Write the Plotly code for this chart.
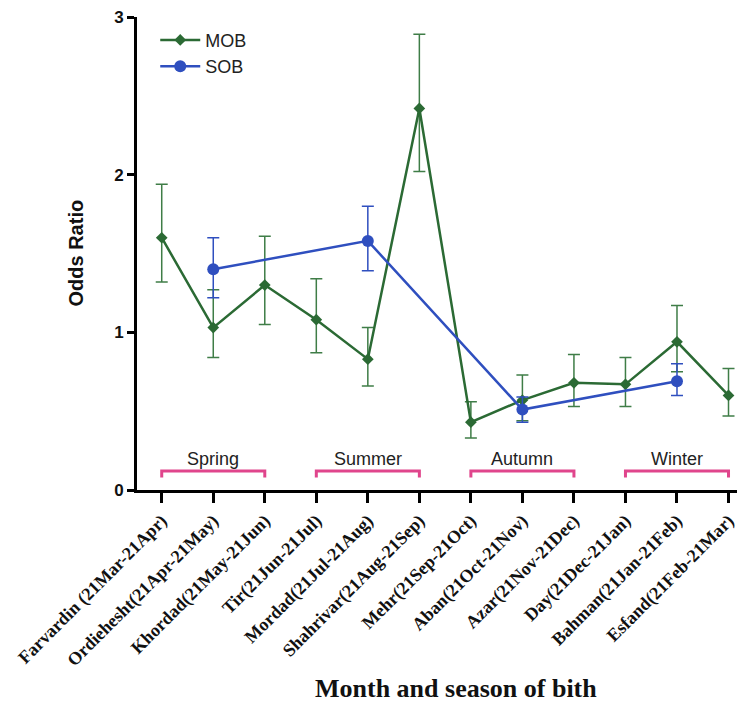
import plotly.graph_objects as go

months = ["Farvardin (21Mar-21Apr)", "Ordiehesht(21Apr-21May)", "Khordad(21May-21Jun)",
          "Tir(21Jun-21Jul)", "Mordad(21Jul-21Aug)", "Shahrivar(21Aug-21Sep)",
          "Mehr(21Sep-21Oct)", "Aban(21Oct-21Nov)", "Azar(21Nov-21Dec)",
          "Day(21Dec-21Jan)", "Bahman(21Jan-21Feb)", "Esfand(21Feb-21Mar)"]

mob_or = [1.60, 1.03, 1.30, 1.08, 0.83, 2.42, 0.43, 0.57, 0.68, 0.67, 0.94, 0.60]
mob_lo = [1.32, 0.84, 1.05, 0.87, 0.66, 2.02, 0.33, 0.44, 0.53, 0.53, 0.75, 0.47]
mob_hi = [1.94, 1.27, 1.61, 1.34, 1.03, 2.89, 0.56, 0.73, 0.86, 0.84, 1.17, 0.77]

sob_or = [None, 1.40, None, None, 1.58, None, None, 0.51, None, None, 0.69, None]
sob_lo = [None, 1.22, None, None, 1.39, None, None, 0.43, None, None, 0.60, None]
sob_hi = [None, 1.60, None, None, 1.80, None, None, 0.59, None, None, 0.80, None]

seasons = ["Spring", "Summer", "Autumn", "Winter"]
season_start = [0, 3, 6, 9]
season_end = [2, 5, 8, 11]

xs = list(range(len(months)))
GREEN = "#2b6a34"
GREEN_ERR = "#3f7d47"
BLUE = "#2f4fbf"
PINK = "#e0458c"

fig = go.Figure()
fig.add_trace(go.Scatter(
    x=xs, y=mob_or, name="MOB", mode="lines+markers",
    line=dict(color=GREEN, width=2.5),
    marker=dict(symbol="diamond", size=9, color=GREEN),
    error_y=dict(type="data", array=[h - v for v, h in zip(mob_or, mob_hi)],
                 arrayminus=[v - l for v, l in zip(mob_or, mob_lo)],
                 symmetric=False, color=GREEN_ERR, thickness=1.5, width=6),
))
fig.add_trace(go.Scatter(
    x=[x for x, v in zip(xs, sob_or) if v is not None],
    y=[v for v in sob_or if v is not None], name="SOB", mode="lines+markers",
    line=dict(color=BLUE, width=2.5),
    marker=dict(symbol="circle", size=12, color=BLUE),
    error_y=dict(type="data",
                 array=[h - v for v, h in zip(sob_or, sob_hi) if v is not None],
                 arrayminus=[v - l for v, l in zip(sob_or, sob_lo) if v is not None],
                 symmetric=False, color=BLUE, thickness=1.5, width=6),
))

# season brackets
for name, s, e in zip(seasons, season_start, season_end):
    fig.add_shape(type="path", xref="x", yref="y",
                  path=f"M {s} 0.08 L {s} 0.12 L {e} 0.12 L {e} 0.08",
                  line=dict(color=PINK, width=3))
    fig.add_annotation(x=(s + e) / 2, y=0.12, xref="x", yref="y", text=name,
                       showarrow=False, yanchor="bottom",
                       font=dict(family="Liberation Sans, Arial", size=18, color="#222"))

fig.add_annotation(x=0.525, y=-0.42, xref="paper", yref="paper",
                   text="<b>Month and season of bith</b>", showarrow=False,
                   xanchor="center", yanchor="middle",
                   font=dict(family="Liberation Serif, Times New Roman", size=26, color="#111"))

fig.add_annotation(x=0, y=0.5, xref="paper", yref="paper", xshift=-62,
                   text="<b>Odds Ratio</b>", textangle=-90, showarrow=False,
                   xanchor="center", yanchor="middle",
                   font=dict(family="Liberation Sans, Arial", size=20, color="#111"))

fig.update_layout(
    width=737, height=696,
    margin=dict(l=129, r=0, t=9, b=214, autoexpand=False),
    paper_bgcolor="white", plot_bgcolor="white",
    showlegend=True,
    legend=dict(x=0.03, y=0.99, xanchor="left", yanchor="top",
                bgcolor="rgba(0,0,0,0)",
                font=dict(family="Liberation Sans, Arial", size=18, color="#222"),
                itemwidth=40, tracegroupgap=4),
    xaxis=dict(range=[-0.48, 11.32], tickvals=xs, ticktext=[f"<b>{m}</b>" for m in months],
               tickangle=-45, showgrid=False, zeroline=False, automargin=False,
               ticklabeloverflow="allow",
               showline=True, linecolor="black", linewidth=3,
               ticks="outside", ticklen=10, tickwidth=3, tickcolor="black",
               tickfont=dict(family="Liberation Serif, Times New Roman", size=18, color="#111")),
    yaxis=dict(range=[0, 3], tickvals=[0, 1, 2, 3], ticktext=["<b>0</b>", "<b>1</b>", "<b>2</b>", "<b>3</b>"],
               showgrid=False, zeroline=False, automargin=False,
               ticklabeloverflow="allow",
               showline=True, linecolor="black", linewidth=3,
               ticks="outside", ticklen=7, tickwidth=3, tickcolor="black",
               tickfont=dict(family="Liberation Sans, Arial", size=17, color="#111")),
)

fig.write_html("out.html")
